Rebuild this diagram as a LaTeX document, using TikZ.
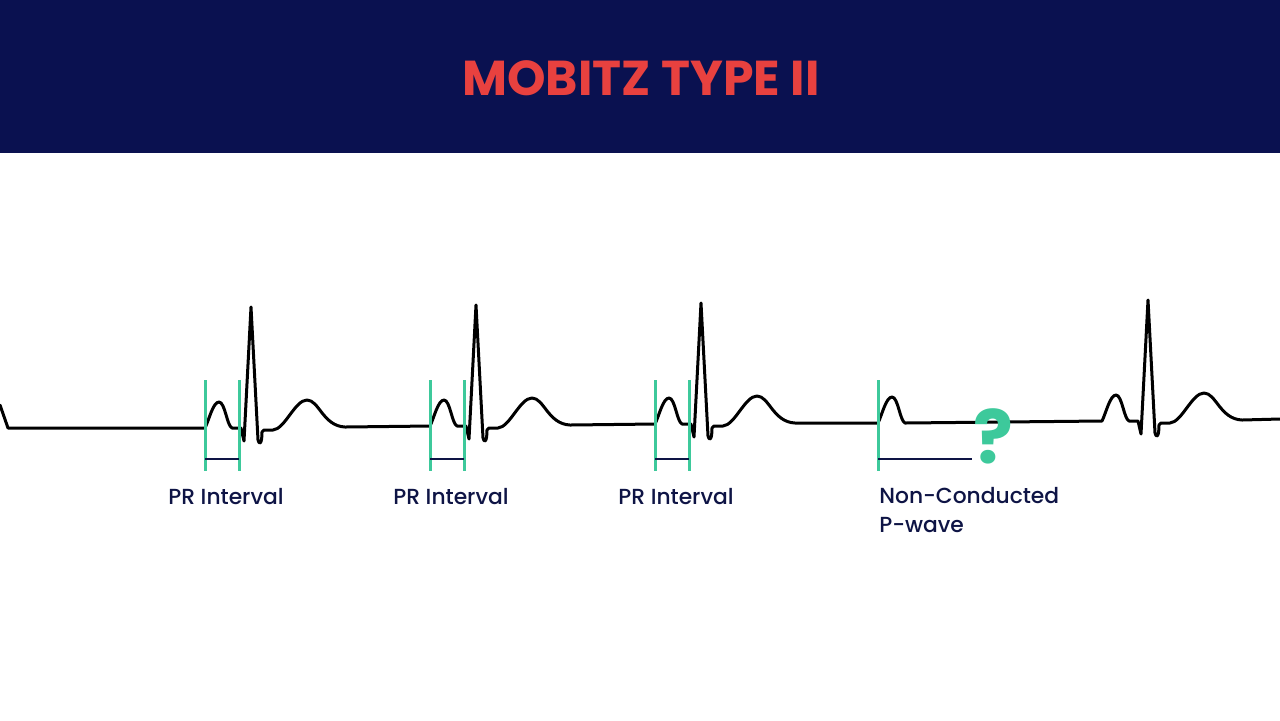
\documentclass[tikz,border=0pt]{standalone}
\usepackage{fontspec}
\setmainfont{Poppins}
\newfontfamily\labelfont{Poppins Medium}
\usepackage{tikz}
\usetikzlibrary{positioning}
\definecolor{headerNavy}{HTML}{0A1150}
\definecolor{titleRed}{HTML}{E8413F}
\definecolor{textNavy}{HTML}{0E1445}
\definecolor{prGreen}{HTML}{3DC99B}

% one P wave, starting on the baseline at (#1,#2)
\newcommand{\pwave}[2]{-- (#1,#2)
  .. controls (#1+4,#2-8) and (#1+8,#2-26) .. (#1+14,#2-26)
  .. controls (#1+20,#2-26) and (#1+22,#2-2) .. (#1+27,#2)}
% QRS complex and T wave after it
\newcommand{\qrst}[2]{-- (#1+36,#2) -- (#1+39,#2+13) -- (#1+46,#2-121) -- (#1+53,#2+12)
  .. controls (#1+54,#2+17) and (#1+57,#2+17) .. (#1+57,#2+4)
  -- (#1+59,#2+2) -- (#1+68,#2+2)
  .. controls (#1+80,#2+1) and (#1+90,#2-28) .. (#1+102,#2-28)
  .. controls (#1+114,#2-28) and (#1+118,#2-2) .. (#1+140,#2-1)}

\begin{document}
\begin{tikzpicture}[
    x=0.5pt, y=-0.5pt,
    ecg/.style={line width=1.5pt, black, line join=round, line cap=round},
    prtick/.style={line width=1.5pt, prGreen},
    prbar/.style={line width=1pt, textNavy},
    title/.style={font=\fontsize{24.5}{29}\selectfont\bfseries, text=titleRed, inner sep=0pt},
    label/.style={font=\labelfont\fontsize{10.9}{14.5}\selectfont, text=textNavy, inner sep=0pt},
    qmark/.style={font=\fontsize{37}{40}\selectfont\bfseries, text=prGreen, inner sep=0pt},
]
    \useasboundingbox (0,0) rectangle (1280,720);
    \fill[white] (0,0) rectangle (1280,720);

    % Header
    \fill[headerNavy] (0,0) rectangle (1280,153);
    \node[title] (title) at (641,78) {MOBITZ TYPE II};

    % ECG trace
    \draw[ecg] (0,405) -- (8,428)
        foreach \x/\y in {205/428, 430/426, 655/424} {\pwave{\x}{\y} \qrst{\x}{\y}}
        \pwave{878}{423}
        \pwave{1102}{421} \qrst{1102}{421}
        -- (1280,419);

    % PR intervals
    \foreach \x [count=\i] in {205, 430, 655} {
        \coordinate (pa\i) at (\x,380);
        \coordinate (pb\i) at (\x+34,380);
        \draw[prtick] (pa\i) -- ++(0,91);
        \draw[prtick] (pb\i) -- ++(0,91);
        \draw[prbar] ([yshift=-39.5pt]pa\i) -- ([yshift=-39.5pt]pb\i);
        \node[label, anchor=base] (pr\i) at (\x+21,504) {PR Interval};
    }

    % Non-conducted P-wave
    \coordinate (nc) at (878,380);
    \coordinate (ncend) at (972,459);
    \draw[prtick] (nc) -- ++(0,91);
    \draw[prbar] (nc |- ncend) -- (ncend);
    \node[qmark] (qmark) at (993,436) {?};
    \node[label, anchor=north west, align=left] (nclabel) at (879,487) {Non-Conducted\\P-wave};
\end{tikzpicture}
\end{document}
